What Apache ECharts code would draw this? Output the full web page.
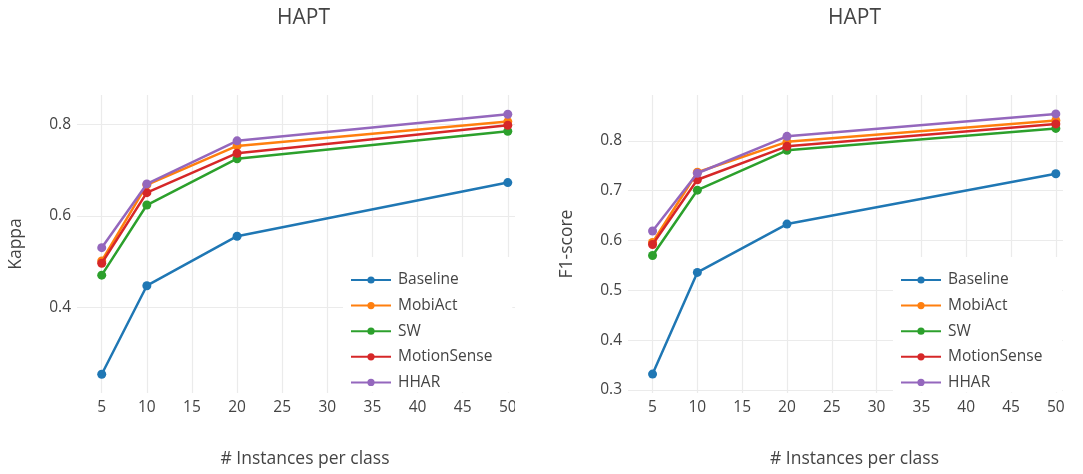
<!DOCTYPE html>
<html>
<head>
<meta charset="utf-8">
<script src="https://cdn.jsdelivr.net/npm/echarts@6/dist/echarts.min.js"></script>
<style>
  html, body { margin: 0; padding: 0; background: #fff; }
  #chart { width: 1083px; height: 474px; }
</style>
</head>
<body>
<div id="chart"></div>
<script>
// Few-shot results on HAPT: instances per class vs. Kappa / F1-score
const instances = [5, 10, 20, 50];
const seriesNames = ['Baseline', 'MobiAct', 'SW', 'MotionSense', 'HHAR'];
const colors = ['#1f77b4', '#ff7f0e', '#2ca02c', '#d62728', '#9467bd'];

const kappaBaseline    = [0.255, 0.448, 0.556, 0.673];
const kappaMobiAct     = [0.502, 0.668, 0.753, 0.806];
const kappaSW          = [0.471, 0.624, 0.725, 0.785];
const kappaMotionSense = [0.497, 0.651, 0.737, 0.798];
const kappaHHAR        = [0.531, 0.670, 0.764, 0.822];

const f1Baseline    = [0.332, 0.536, 0.633, 0.734];
const f1MobiAct     = [0.596, 0.737, 0.798, 0.841];
const f1SW          = [0.570, 0.701, 0.781, 0.825];
const f1MotionSense = [0.592, 0.722, 0.789, 0.834];
const f1HHAR        = [0.619, 0.735, 0.809, 0.854];

const xTicks = [5, 10, 15, 20, 25, 30, 35, 40, 45, 50];
const kappaTicks = [0.4, 0.6, 0.8];
const f1Ticks = [0.3, 0.4, 0.5, 0.6, 0.7, 0.8];

const chartTitle = 'HAPT';
const xTitle = '# Instances per class';
const kappaTitle = 'Kappa';
const f1Title = 'F1-score';

const kappaData = [kappaBaseline, kappaMobiAct, kappaSW, kappaMotionSense, kappaHHAR];
const f1Data = [f1Baseline, f1MobiAct, f1SW, f1MotionSense, f1HHAR];

const FONT = '"Open Sans", Verdana, Arial, sans-serif';
const TEXT = '#444';
const GRID = '#ebebeb';

function xAxisFor(gridIndex) {
  return {
    type: 'value', gridIndex, min: 2.26, max: 50.8,
    name: xTitle, nameLocation: 'middle', nameGap: 57,
    nameTextStyle: { color: TEXT, fontFamily: FONT, fontSize: 17.5, padding: [0, 0, 0, 18] },
    axisLine: { show: false },
    axisTick: { show: false, customValues: xTicks },
    axisLabel: { customValues: xTicks, color: TEXT, fontFamily: FONT, fontSize: 15.5, margin: 7 },
    splitLine: { show: true, lineStyle: { color: GRID, width: 1.2 } }
  };
}
function yAxisFor(gridIndex, min, max, ticks, name) {
  return {
    type: 'value', gridIndex, min, max,
    name, nameLocation: 'middle', nameGap: 52,
    nameTextStyle: { color: TEXT, fontFamily: FONT, fontSize: 17.5 },
    axisLine: { show: false },
    axisTick: { show: false, customValues: ticks },
    axisLabel: { customValues: ticks, color: TEXT, fontFamily: FONT, fontSize: 15.5, margin: 6,
                 formatter: v => String(Math.round(v * 10) / 10) },
    splitLine: { show: true, lineStyle: { color: GRID, width: 1.2 } }
  };
}

function makeSeries(dataSets, axisIndex) {
  return dataSets.map((vals, i) => ({
    name: seriesNames[i],
    type: 'line',
    xAxisIndex: axisIndex, yAxisIndex: axisIndex,
    data: instances.map((x, j) => [x, vals[j]]),
    symbol: 'circle', symbolSize: 9,
    lineStyle: { width: 2.5, color: colors[i] },
    itemStyle: { color: colors[i] },
    z: 2 + i,
    animation: false
  }));
}

function legendAt(left) {
  return {
    orient: 'vertical', left, top: 257,
    backgroundColor: '#fff',
    padding: [15, 20, 2, 7],
    itemWidth: 40, itemHeight: 9, itemGap: 9.6,
    textStyle: { color: TEXT, fontFamily: FONT, fontSize: 15.5, lineHeight: 14, padding: [0, 0, 0, 2] },
    data: seriesNames
  };
}

const chart = echarts.init(document.getElementById('chart'), null, { renderer: 'canvas' });
chart.setOption({
  backgroundColor: '#fff',
  animation: false,
  color: colors,
  title: [
    { text: chartTitle, left: 277, top: 8, padding: 0,
      textStyle: { color: TEXT, fontFamily: FONT, fontSize: 21, fontWeight: 'normal' } },
    { text: chartTitle, left: 828, top: 8, padding: 0,
      textStyle: { color: TEXT, fontFamily: FONT, fontSize: 21, fontWeight: 'normal' } }
  ],
  grid: [
    { left: 77, right: 568, top: 95, bottom: 81 },
    { left: 628, right: 20, top: 95, bottom: 81 }
  ],
  xAxis: [xAxisFor(0), xAxisFor(1)],
  yAxis: [
    yAxisFor(0, 0.214, 0.864, kappaTicks, kappaTitle),
    yAxisFor(1, 0.294, 0.892, f1Ticks, f1Title)
  ],
  legend: [legendAt(343), legendAt(893)],
  series: makeSeries(kappaData, 0).concat(makeSeries(f1Data, 1)),
  graphic: [
    // the left panel's last tick label is cut at the panel edge
    { type: 'rect', left: 515, top: 398, shape: { width: 20, height: 20 },
      style: { fill: '#fff' }, z: 100 }
  ]
});
</script>
</body>
</html>
